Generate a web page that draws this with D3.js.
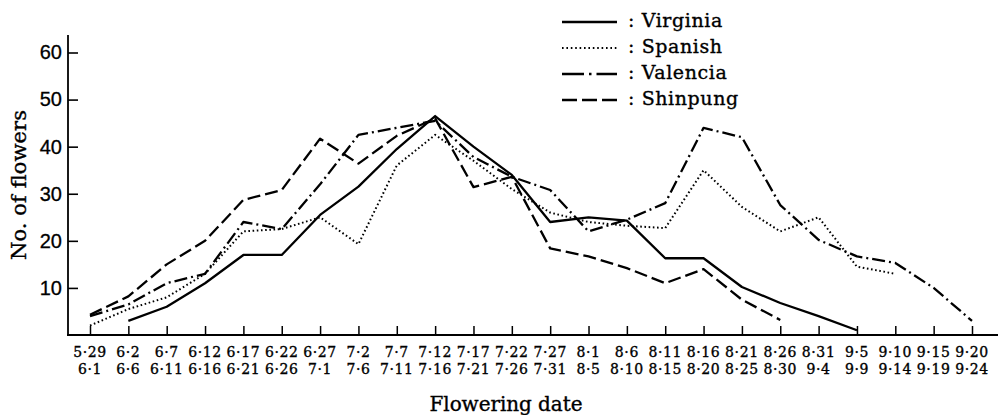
<!DOCTYPE html>
<html>
<head>
<meta charset="utf-8">
<title>Flowering date</title>
<script src="https://cdn.jsdelivr.net/npm/d3@7"></script>
<style>
  body { margin: 0; background: #fff; }
  svg { display: block; }
  .serif { font-family: "DejaVu Serif", "Liberation Serif", serif; fill: #000; stroke: #000; stroke-width: 0.35px; }
  .sans { font-family: "Liberation Sans", Arial, sans-serif; fill: #000; stroke: #000; stroke-width: 0.3px; }
</style>
</head>
<body>
<svg id="chart" width="1001" height="415"></svg>
<script>
// flowering periods (two lines per label)
var periodStart = ["5·29","6·2","6·7","6·12","6·17","6·22","6·27","7·2","7·7","7·12","7·17","7·22",
                   "7·27","8·1","8·6","8·11","8·16","8·21","8·26","8·31","9·5","9·10","9·15","9·20"];
var periodEnd   = ["6·1","6·6","6·11","6·16","6·21","6·26","7·1","7·6","7·11","7·16","7·21","7·26",
                   "7·31","8·5","8·10","8·15","8·20","8·25","8·30","9·4","9·9","9·14","9·19","9·24"];

// no. of flowers per period, null = no record
var virginia = [null, 3, 6, 11, 17, 17, 25.5, 31.5, 39.5, 46.5, 40, 34,
                24, 25, 24.3, 16.3, 16.3, 10.2, 6.8, 4, 1, null, null, null];
var spanish  = [2, 5.5, 8, 13, 22, 22.5, 25, 19.3, 36, 42.5, 37, 31,
                26, 24, 23.2, 22.7, 35, 27.2, 22, 25, 14.5, 13, null, null];
var valencia = [4, 6.5, 11, 13, 24, 22.5, 32, 42.5, 44, 45.5, 37.8, 33.6,
                30.8, 22, 24.5, 28, 44, 42, 27.6, 20.2, 16.7, 15.3, 10, 3];
var shinpung = [4.3, 8.2, 15, 20, 28.7, 30.8, 41.7, 36.4, 42.3, 46, 31.4, 33.6,
                18.4, 16.7, 14.2, 11, 14, 7.5, 3.2, null, null, null, null, null];

var seriesNames = ["Virginia", "Spanish", "Valencia", "Shinpung"];
var yTicks = [10, 20, 30, 40, 50, 60];

var series = [
  {name: seriesNames[0], values: virginia, dash: null,        legendDash: null,         width: 2.3},
  {name: seriesNames[1], values: spanish,  dash: "1.6,2.6",   legendDash: "1.6,2.8",    width: 2},
  {name: seriesNames[2], values: valencia, dash: "13,4,2,4",  legendDash: "22,5,2.5,5", width: 2.3},
  {name: seriesNames[3], values: shinpung, dash: "13,5",      legendDash: "15,5",       width: 2.3}
];

var svg = d3.select("#chart");

var x = d3.scalePoint().domain(d3.range(periodStart.length)).range([90, 972]);
var y = d3.scaleLinear().domain([0, 60]).range([335, 52.5]);

// y axis
var yAxis = svg.append("g")
  .attr("transform", "translate(68,0)")
  .call(d3.axisLeft(y).tickValues(yTicks).tickSize(-10).tickPadding(6));
yAxis.select(".domain").remove();
yAxis.selectAll("line").attr("stroke", "#000").attr("stroke-width", 1.6);
yAxis.selectAll("text").attr("class", "sans").style("font-size", "20px").attr("font-family", null);

svg.append("line")
  .attr("x1", 68).attr("x2", 68).attr("y1", 35).attr("y2", y(0))
  .attr("stroke", "#000").attr("stroke-width", 1.8);

// x axis
var xAxis = svg.append("g")
  .attr("transform", "translate(0," + y(0) + ")")
  .call(d3.axisBottom(x).tickSize(-9).tickFormat(""));
xAxis.select(".domain").remove();
xAxis.selectAll("line").attr("stroke", "#000").attr("stroke-width", 1.5);

svg.append("line")
  .attr("x1", 67).attr("x2", 998).attr("y1", y(0)).attr("y2", y(0))
  .attr("stroke", "#000").attr("stroke-width", 1.8);

var lab = svg.append("g").attr("class", "serif").style("font-size", "14px").style("letter-spacing", "0.6px");
lab.selectAll("text.top").data(periodStart).enter().append("text")
  .attr("class", "top")
  .attr("x", function (d, i) { return x(i); })
  .attr("y", 357)
  .attr("text-anchor", "middle")
  .text(function (d) { return d; });
lab.selectAll("text.bot").data(periodEnd).enter().append("text")
  .attr("class", "bot")
  .attr("x", function (d, i) { return x(i); })
  .attr("y", 374)
  .attr("text-anchor", "middle")
  .text(function (d) { return d; });

// axis titles
svg.append("text").attr("class", "serif")
  .attr("transform", "translate(26,185) rotate(-90)")
  .attr("text-anchor", "middle")
  .style("font-size", "21px")
  .attr("textLength", 150).attr("lengthAdjust", "spacing")
  .text("No. of flowers");

svg.append("text").attr("class", "serif")
  .attr("x", 506).attr("y", 411)
  .attr("text-anchor", "middle")
  .style("font-size", "20px")
  .attr("textLength", 153).attr("lengthAdjust", "spacing")
  .text("Flowering date");

// lines
var line = d3.line()
  .defined(function (d) { return d != null; })
  .x(function (d, i) { return x(i); })
  .y(function (d) { return y(d); });

svg.selectAll("path.series").data(series).enter().append("path")
  .attr("class", "series")
  .attr("fill", "none")
  .attr("stroke", "#000")
  .attr("stroke-width", function (d) { return d.width; })
  .attr("stroke-linejoin", "round")
  .attr("stroke-dasharray", function (d) { return d.dash; })
  .attr("d", function (d) { return line(d.values); });

// legend
var leg = svg.append("g");
var rows = leg.selectAll("g").data(series).enter().append("g")
  .attr("transform", function (d, i) { return "translate(0," + (27 + i * 26) + ")"; });
rows.append("line")
  .attr("x1", 562).attr("x2", 617).attr("y1", -5).attr("y2", -5)
  .attr("stroke", "#000")
  .attr("stroke-width", function (d) { return d.width; })
  .attr("stroke-dasharray", function (d) { return d.legendDash; });
rows.append("text").attr("class", "serif")
  .attr("x", 628).attr("y", 0)
  .style("font-size", "19px").style("letter-spacing", "0.6px")
  .text(function (d) { return ": " + d.name; });
</script>
</body>
</html>
